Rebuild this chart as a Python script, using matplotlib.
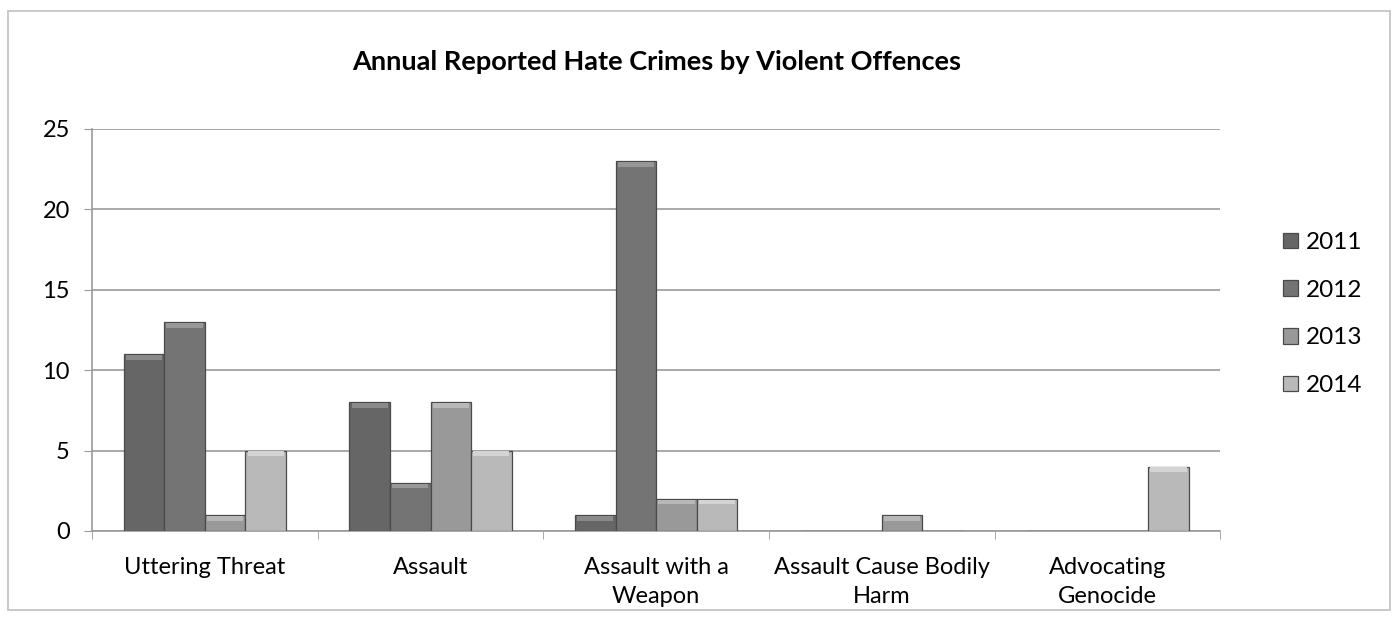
import numpy as np
import matplotlib.pyplot as plt
from matplotlib.patches import Rectangle

plt.rcParams['font.family'] = ['Lato', 'DejaVu Sans']

categories = ['Uttering Threat', 'Assault', 'Assault with a\nWeapon',
              'Assault Cause Bodily\nHarm', 'Advocating\nGenocide']
years = ['2011', '2012', '2013', '2014']
v2011 = [11, 8, 1, 0, 0]
v2012 = [13, 3, 23, 0, 0]
v2013 = [1, 8, 2, 1, 0]
v2014 = [5, 5, 2, 0, 4]
series = [v2011, v2012, v2013, v2014]
colors = ['#666666', '#747474', '#999999', '#b9b9b9']
tops = ['#8a8a8a', '#979797', '#b8b8b8', '#d4d4d4']

fig = plt.figure(figsize=(14, 6.18), dpi=100)
ax = fig.add_axes([0.0657, 0.1408, 0.806, 0.6505])

x = np.arange(len(categories))
w = 0.18
for i, (vals, c) in enumerate(zip(series, colors)):
    pos = x + (i - 1.5) * w
    ax.bar(pos, vals, w, color=c, edgecolor='#4a4a4a', linewidth=0.9,
           label=years[i], zorder=3)
    # light cap at top of each bar, looks like the 3d face
    for p, v in zip(pos, vals):
        if v > 0:
            ax.add_patch(Rectangle((p - w / 2 + 0.01, v - 0.35), w - 0.02, 0.3,
                                   facecolor=tops[i], edgecolor='none', zorder=4))

ax.set_xlim(-0.5, 4.5)
ax.set_ylim(0, 25)
ax.set_yticks([0, 5, 10, 15, 20, 25])
ax.yaxis.grid(True, color='#9a9a9a', linewidth=1.2, zorder=0)
ax.set_axisbelow(True)
for s in ['top', 'right']:
    ax.spines[s].set_visible(False)
ax.spines['left'].set_color('#9a9a9a')
ax.spines['bottom'].set_color('#9a9a9a')
ax.spines['left'].set_linewidth(1.2)
ax.spines['bottom'].set_linewidth(1.2)

ax.set_xticks(x)
ax.set_xticklabels(categories, fontsize=17, linespacing=1.45)
ax.set_xticks(np.arange(-0.5, 5, 1), minor=True)
ax.tick_params(axis='x', which='major', length=0, pad=19)
ax.tick_params(axis='x', which='minor', length=6, color='#9a9a9a')
ax.tick_params(axis='y', length=6, color='#9a9a9a', labelsize=17, pad=10)

fig.text(0.469, 0.90, 'Annual Reported Hate Crimes by Violent Offences',
         ha='center', va='center', fontsize=19.5, fontweight='bold')

leg = fig.legend(loc='upper left', bbox_to_anchor=(0.901, 0.66), frameon=False,
                 fontsize=17.5, handlelength=0.6, handleheight=0.6,
                 labelspacing=1.1, handletextpad=0.35)

fig.patches.append(Rectangle((0.006, 0.013), 0.987, 0.97, transform=fig.transFigure,
                             fill=False, edgecolor='#c0c0c0', linewidth=1.2))

fig.savefig('out.png', dpi=100)
